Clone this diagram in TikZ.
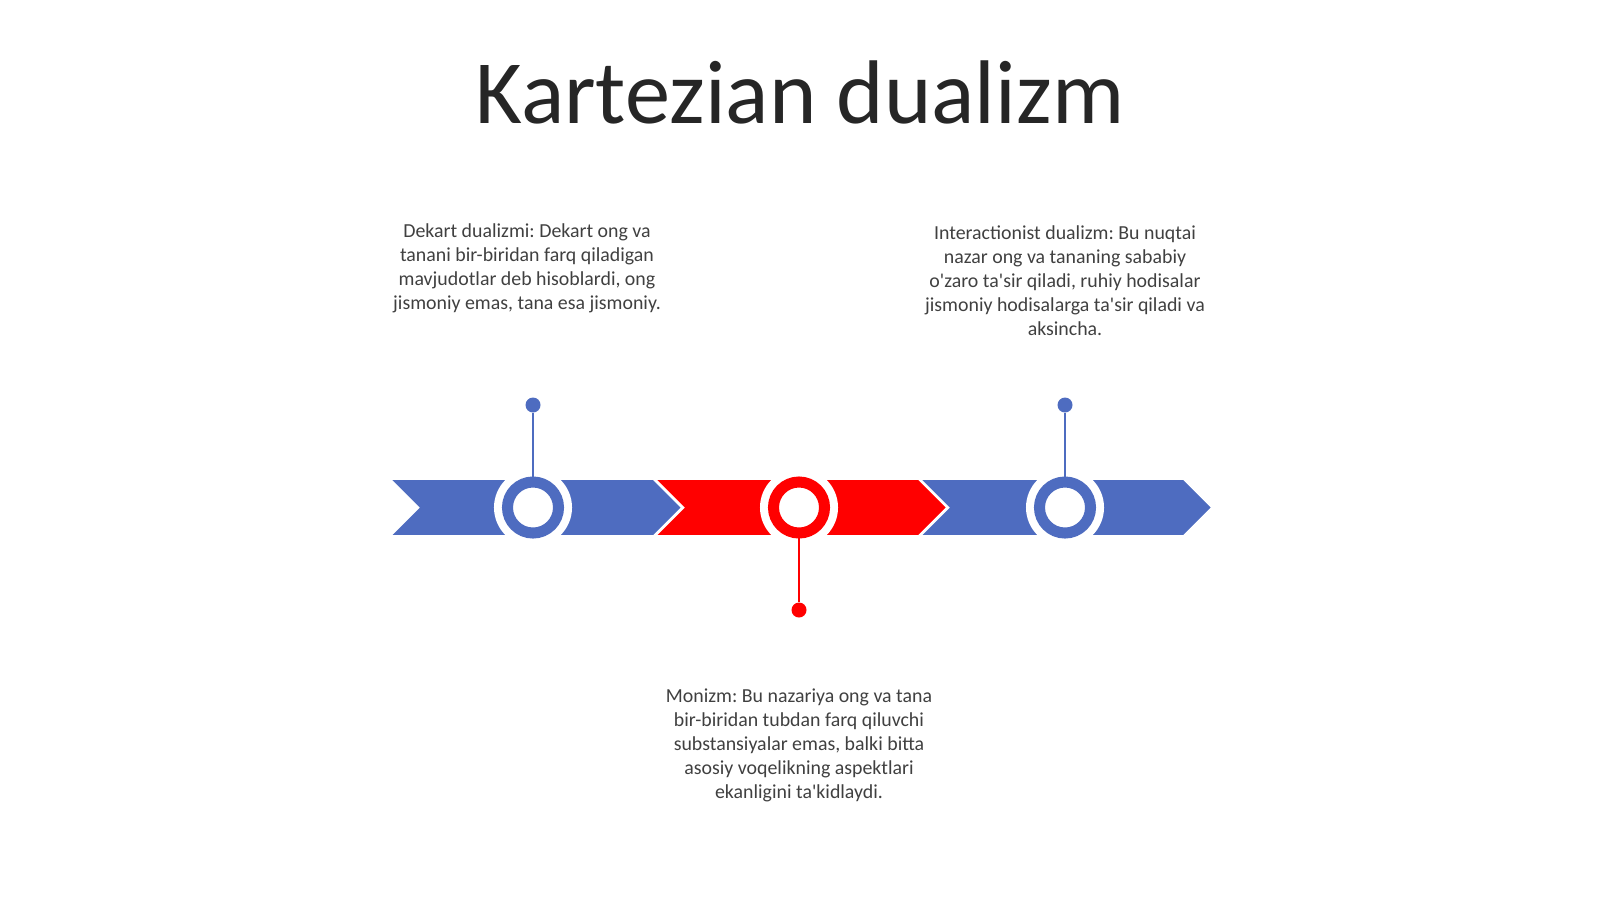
\documentclass[tikz,border=0pt]{standalone}
\usepackage{fontspec}
\setmainfont{Carlito}[Ligatures=TeXOff]
\frenchspacing
\definecolor{barblue}{HTML}{4E6CC0}
\definecolor{barred}{HTML}{FF0000}
\definecolor{titlegray}{HTML}{262626}
\definecolor{textgray}{HTML}{404040}

\begin{document}
\begin{tikzpicture}[x=0.01cm,y=-0.01cm,
	note/.style={align=center,inner sep=0pt,text=textgray,font=\fontsize{5.65}{6.8}\selectfont},
	halo/.style={circle,fill=white,inner sep=0pt,minimum size=0.78cm},
	ring/.style={circle,draw=#1,fill=white,line width=0.11cm,inner sep=0pt,minimum size=0.51cm},
	dot/.style={circle,fill=#1,inner sep=0pt,minimum size=0.15cm}]
		\useasboundingbox (0,0) rectangle (1600,899);
		\node[font=\fontsize{25.7}{31}\selectfont,text=titlegray,anchor=base] (title) at (800,123) {Kartezian dualizm};

		% chevrons of the bar
		\foreach \i/\col in {0/barblue,1/barred,2/barblue}
		\filldraw[fill=\col,draw=white,line width=0.5pt] ({390+265*\i},479) -- ++(263.5,0) -- ++(28.5,28.5) -- ++(-28.5,28.5) -- ++(-263.5,0) -- ++(28.5,-28.5) -- cycle;

		\node[halo] (H1) at (533,507.5) {};
		\node[halo] (H2) at (799,507.5) {};
		\node[halo] (H3) at (1065,507.5) {};

		\node[dot=barblue] (D1) at (533,405) {};
		\node[dot=barred] (D2) at (799,610) {};
		\node[dot=barblue] (D3) at (1065,405) {};

		\draw[barblue,line width=0.8pt] (D1) -- (H1.center);
		\draw[barred,line width=0.8pt] (D2) -- (H2.center);
		\draw[barblue,line width=0.8pt] (D3) -- (H3.center);

		\node[ring=barblue] (R1) at (H1) {};
		\node[ring=barred] (R2) at (H2) {};
		\node[ring=barblue] (R3) at (H3) {};

		\node[note,anchor=north] (T1) at (527,223) {Dekart dualizmi: Dekart ong va\\tanani bir-biridan farq qiladigan\\mavjudotlar deb hisoblardi, ong\\jismoniy emas, tana esa jismoniy.};
		\node[note,anchor=north] (T3) at (1065,225) {Interactionist dualizm: Bu nuqtai\\nazar ong va tananing sababiy\\o'zaro ta'sir qiladi, ruhiy hodisalar\\jismoniy hodisalarga ta'sir qiladi va\\aksincha.};
		\node[note,anchor=north] (T2) at (799,688) {Monizm: Bu nazariya ong va tana\\bir-biridan tubdan farq qiluvchi\\substansiyalar emas, balki bitta\\asosiy voqelikning aspektlari\\ekanligini ta'kidlaydi.};
	    \end{tikzpicture}
\end{document}
